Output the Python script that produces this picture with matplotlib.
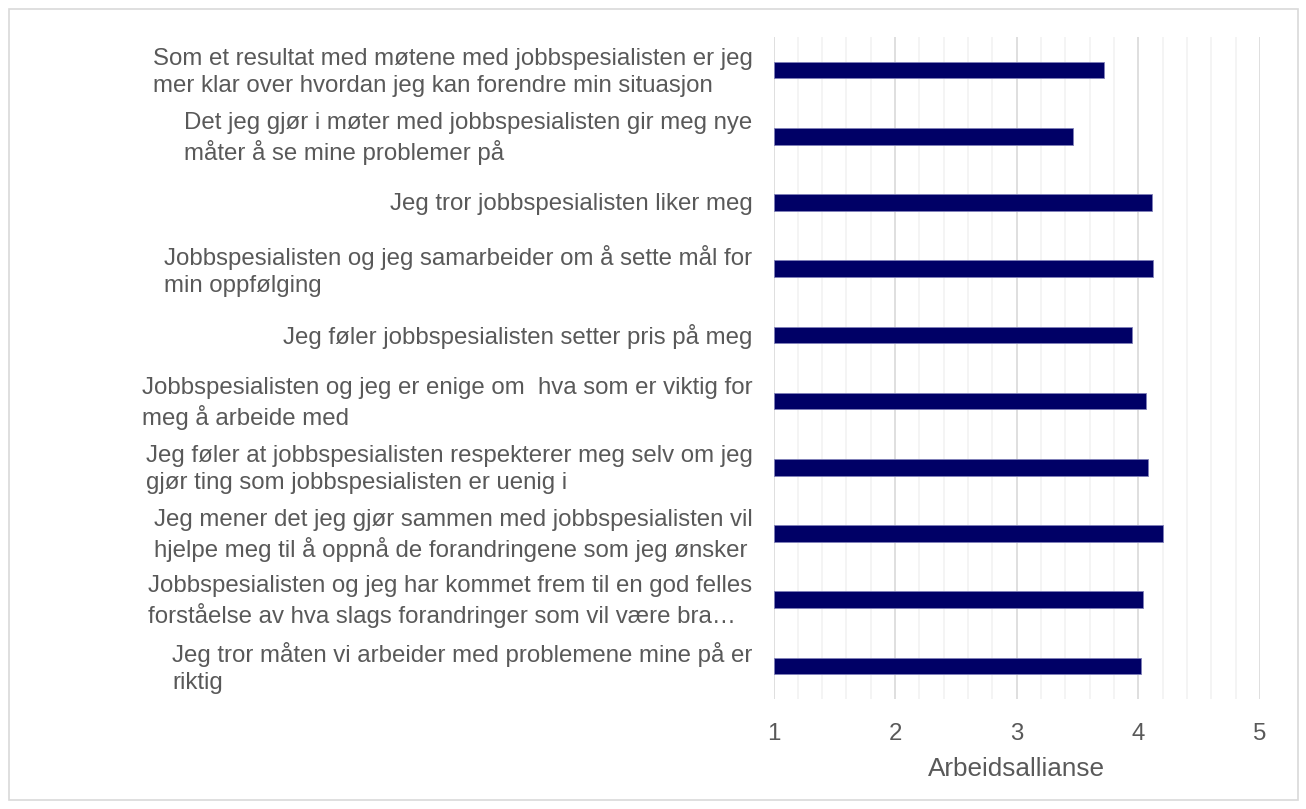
import matplotlib
matplotlib.use("Agg")
import matplotlib.pyplot as plt
from matplotlib.patches import Rectangle
from matplotlib.ticker import MultipleLocator

plt.rcParams['font.family'] = ['Liberation Sans', 'DejaVu Sans']

categories = [
    "Som et resultat med møtene med jobbspesialisten er jeg\nmer klar over hvordan jeg kan forendre min situasjon",
    "Det jeg gjør i møter med jobbspesialisten gir meg nye\nmåter å se mine problemer på",
    "Jeg tror jobbspesialisten liker meg",
    "Jobbspesialisten og jeg samarbeider om å sette mål for\nmin oppfølging",
    "Jeg føler jobbspesialisten setter pris på meg",
    "Jobbspesialisten og jeg er enige om  hva som er viktig for\nmeg å arbeide med",
    "Jeg føler at jobbspesialisten respekterer meg selv om jeg\ngjør ting som jobbspesialisten er uenig i",
    "Jeg mener det jeg gjør sammen med jobbspesialisten vil\nhjelpe meg til å oppnå de forandringene som jeg ønsker",
    "Jobbspesialisten og jeg har kommet frem til en god felles\nforståelse av hva slags forandringer som vil være bra…",
    "Jeg tror måten vi arbeider med problemene mine på er\nriktig",
]
values = [3.72, 3.46, 4.11, 4.12, 3.95, 4.06, 4.08, 4.20, 4.04, 4.02]
xticks = [1, 2, 3, 4, 5]
xlabel = "Arbeidsallianse"

W, H = 1306, 809
fig = plt.figure(figsize=(W / 100, H / 100), dpi=100)
ax = fig.add_axes([773.5 / W, 1 - 699 / H, (1260 - 773.5) / W, (699 - 37) / H])

text_color = '#595959'
ypos = list(range(len(categories)))
ax.barh(ypos, [v - 1 for v in values], left=1, height=0.25,
        color='#000066', edgecolor='#8080b8', linewidth=0.6, zorder=3)
ax.set_ylim(len(categories) - 0.5, -0.5)
ax.set_xlim(1, 5)
ax.set_xticks(xticks)
ax.xaxis.set_minor_locator(MultipleLocator(0.2))
ax.grid(axis='x', which='major', color='#d9d9d9', linewidth=1.2, zorder=0)
ax.grid(axis='x', which='minor', color='#f2f2f2', linewidth=1.2, zorder=0)
ax.set_axisbelow(True)
for s in ['top', 'right', 'bottom', 'left']:
    ax.spines[s].set_visible(False)
ax.tick_params(axis='x', which='both', length=0, labelsize=17.3,
               labelcolor=text_color, pad=17)
ax.tick_params(axis='y', length=0)
ax.set_yticks(ypos)
ax.set_yticklabels([])
for y, lab in zip(ypos, categories):
    ax.annotate(lab, xy=(0, y), xycoords=('axes fraction', 'data'),
                xytext=(-21, -2), textcoords='offset pixels',
                ha='right', va='center', multialignment='left',
                fontsize=17.3, color=text_color, linespacing=1.3)
ax.set_xlabel(xlabel, fontsize=18.8, color=text_color, labelpad=9)

fig.patches.append(Rectangle((9 / W, 1 - 800 / H), (1298 - 9) / W, (800 - 9) / H,
                             transform=fig.transFigure, fill=False,
                             edgecolor='#d9d9d9', linewidth=1.2))
fig.savefig('out.png', dpi=100, facecolor='white')
